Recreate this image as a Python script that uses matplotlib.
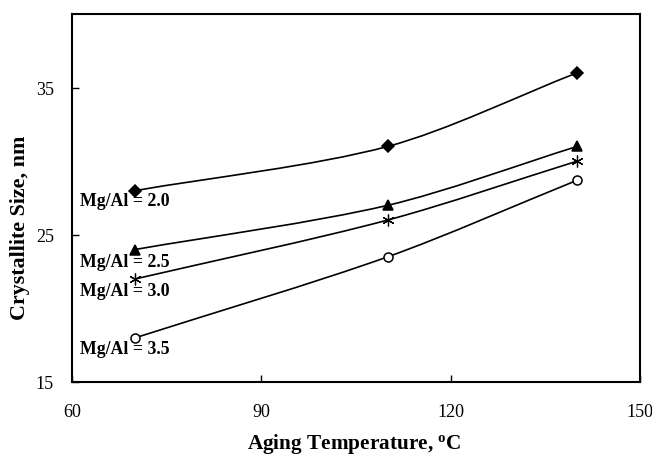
import matplotlib
matplotlib.use('Agg')
import matplotlib.pyplot as plt
from matplotlib.path import Path
from matplotlib.patches import PathPatch
import numpy as np

# ---- data ----
temperature = [70, 110, 140]
size_20 = [28.0, 31.0, 36.0]
size_25 = [24.0, 27.0, 31.0]
size_30 = [22.0, 26.0, 30.0]
size_35 = [18.0, 23.5, 28.7]
series_labels = ['Mg/Al = 2.0', 'Mg/Al = 2.5', 'Mg/Al = 3.0', 'Mg/Al = 3.5']
label_y = [27.3, 23.2, 21.2, 17.3]
x_ticks = [60, 90, 120, 150]
y_ticks = [15, 25, 35]

plt.rcParams['font.family'] = ['Liberation Serif', 'DejaVu Serif']


def smooth_path(ax, x, y, k=0.3):
    """Smooth Bezier through the points, built in display space and mapped back."""
    pts = ax.transData.transform(np.column_stack([x, y]).astype(float))
    n = len(pts)
    tang = []
    for i in range(n):
        a = pts[max(i - 1, 0)]
        b = pts[min(i + 1, n - 1)]
        d = b - a
        tang.append(d / np.hypot(*d))
    verts = [pts[0]]
    codes = [Path.MOVETO]
    for i in range(n - 1):
        p1, p2 = pts[i], pts[i + 1]
        L = np.hypot(*(p2 - p1))
        c1 = p1 + tang[i] * L * k
        c2 = p2 - tang[i + 1] * L * k
        verts += [c1, c2, p2]
        codes += [Path.CURVE4] * 3
    verts = ax.transData.inverted().transform(np.array(verts))
    return Path(verts, codes)


fig = plt.figure(figsize=(6.52, 4.60), dpi=100)
ax = fig.add_axes([72 / 652, 1 - 383 / 460, (640 - 72) / 652, (383 - 15) / 460])
ax.set_xlim(60, 150)
ax.set_ylim(15, 40)

series = [size_20, size_25, size_30, size_35]
markers = ['D', '^', (6, 2, 0), 'o']
msizes = [6, 7.5, 8.5, 6.5]
for vals, mk, ms in zip(series, markers, msizes):
    ax.add_patch(PathPatch(smooth_path(ax, temperature, vals), facecolor='none',
                           edgecolor='black', lw=1.2, zorder=2))
    if mk == 'o':
        ax.plot(temperature, vals, linestyle='none', marker=mk, markersize=ms,
                markerfacecolor='white', markeredgecolor='black', markeredgewidth=1.1, zorder=3)
    elif isinstance(mk, tuple):
        ax.plot(temperature, vals, linestyle='none', marker=mk, markersize=ms,
                color='black', markeredgewidth=0.9, zorder=3)
    else:
        ax.plot(temperature, vals, linestyle='none', marker=mk, markersize=ms,
                color='black', markeredgewidth=1.1, zorder=3)

for lab, ly in zip(series_labels, label_y):
    ax.text(61.3, ly, lab, fontsize=12.8, fontweight='bold', ha='left', va='center', zorder=4)

ax.set_xticks(x_ticks)
ax.set_yticks(y_ticks)
ax.tick_params(direction='in', length=5, width=1, labelsize=13)
ax.tick_params(axis='x', pad=15)
ax.tick_params(axis='y', pad=13)
for s in ax.spines.values():
    s.set_linewidth(1.5)

fig.text(354 / 652, 1 - 444 / 460, 'Aging Temperature, $\\mathregular{^o}$C', fontsize=15.3,
         fontweight='bold', ha='center', va='center')
fig.text(20 / 652, 1 - 228 / 460, 'Crystallite Size, nm', fontsize=15.8, fontweight='bold',
         rotation=90, ha='center', va='center')

fig.savefig('out.png', dpi=100, facecolor='white')
